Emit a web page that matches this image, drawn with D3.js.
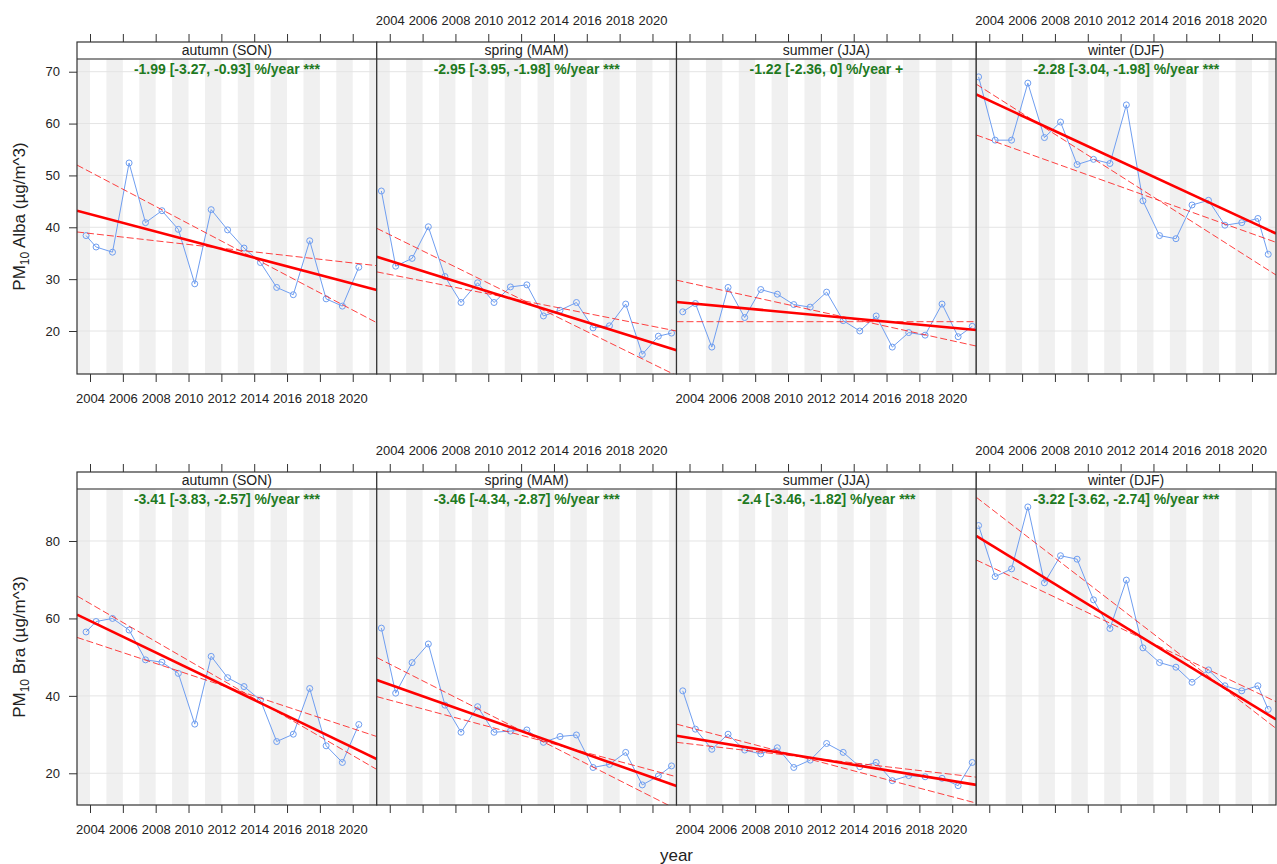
<!DOCTYPE html>
<html>
<head>
<meta charset="utf-8">
<script src="https://cdn.jsdelivr.net/npm/d3@7"></script>
<style>
  html, body { margin: 0; padding: 0; background: #ffffff; }
  svg { display: block; font-family: "Liberation Sans", Arial, sans-serif; }
</style>
</head>
<body>
<svg id="chart" width="1277" height="864"></svg>
<script>
// ---- data -------------------------------------------------------------
const seasons = ["autumn (SON)", "spring (MAM)", "summer (JJA)", "winter (DJF)"];

// decimal-year date of each seasonal mean
const datesAutumn = [2003.76, 2004.37, 2005.37, 2006.38, 2007.38, 2008.38, 2009.38, 2010.38, 2011.38, 2012.38, 2013.38, 2014.38, 2015.37, 2016.38, 2017.38, 2018.38, 2019.37, 2020.37];
const datesSpring = [2003.49, 2004.36, 2005.36, 2006.35, 2007.36, 2008.34, 2009.35, 2010.35, 2011.35, 2012.35, 2013.36, 2014.37, 2015.37, 2016.38, 2017.38, 2018.37, 2019.38, 2020.36, 2021.16];
const datesSummer = [2003.59, 2004.36, 2005.36, 2006.35, 2007.36, 2008.34, 2009.35, 2010.35, 2011.35, 2012.35, 2013.36, 2014.37, 2015.37, 2016.35, 2017.35, 2018.35, 2019.38, 2020.36, 2021.22];
const datesWinter = [2003.35, 2004.36, 2005.36, 2006.35, 2007.36, 2008.34, 2009.35, 2010.35, 2011.35, 2012.35, 2013.36, 2014.37, 2015.37, 2016.35, 2017.35, 2018.35, 2019.38, 2020.36, 2020.99];

// PM10 seasonal means, Alba (µg/m^3)
const albaAutumn = [38.4, 36.2, 35.2, 52.4, 40.9, 43.2, 39.6, 29.1, 43.4, 39.5, 36.0, 33.2, 28.4, 27.0, 37.4, 26.2, 24.8, 32.3];
const albaSpring = [47.0, 32.5, 34.0, 40.1, 30.5, 25.5, 29.3, 25.5, 28.5, 28.9, 22.9, 24.0, 25.5, 20.6, 21.0, 25.2, 15.5, 19.0, 19.6];
const albaSummer = [23.7, 25.3, 16.9, 28.4, 22.6, 28.0, 27.1, 25.1, 24.6, 27.5, 22.0, 20.0, 22.9, 16.9, 19.7, 19.2, 25.2, 18.9, 20.9];
const albaWinter = [69.0, 56.8, 56.8, 67.8, 57.3, 60.3, 52.1, 53.1, 52.3, 63.6, 45.1, 38.4, 37.8, 44.3, 45.2, 40.4, 40.9, 41.7, 34.8];

// PM10 seasonal means, Bra (µg/m^3)
const braAutumn = [56.5, 59.2, 60.0, 57.0, 49.3, 48.7, 45.8, 32.7, 50.2, 44.7, 42.4, 38.9, 28.2, 30.1, 41.9, 27.1, 22.8, 32.6];
const braSpring = [57.5, 40.7, 48.6, 53.4, 37.6, 30.6, 37.2, 30.6, 30.9, 31.2, 28.0, 29.5, 29.9, 21.5, 22.3, 25.4, 17.0, 19.3, 21.9];
const braSummer = [41.3, 31.4, 26.2, 30.1, 26.0, 25.0, 26.6, 21.5, 23.4, 27.7, 25.4, 21.7, 22.8, 18.1, 19.4, 19.1, 18.7, 16.8, 22.8];
const braWinter = [84.0, 70.8, 72.8, 88.8, 69.2, 76.2, 75.3, 64.8, 57.4, 69.9, 52.4, 48.6, 47.4, 43.5, 46.7, 42.6, 41.3, 42.6, 36.5];

// Theil-Sen trend and its confidence bounds: [value at start, value at end of the axis]
const albaTrend = [[43.2, 27.9], [34.3, 16.3], [25.6, 20.2], [65.6, 38.8]];
const albaBoundA = [[52.0, 21.6], [39.8, 11.4], [29.8, 17.1], [67.6, 30.8]];
const albaBoundB = [[39.1, 32.6], [31.4, 20.0], [21.8, 21.8], [57.8, 37.1]];
const braTrend = [[61.0, 23.7], [44.1, 16.7], [29.7, 17.0], [81.3, 33.9]];
const braBoundA = [[65.8, 21.0], [49.9, 10.7], [32.7, 12.3], [91.3, 31.6]];
const braBoundB = [[55.1, 29.5], [39.8, 19.1], [28.0, 19.0], [75.1, 38.5]];

const albaStats = ["-1.99 [-3.27, -0.93] %/year ***", "-2.95 [-3.95, -1.98] %/year ***", "-1.22 [-2.36, 0] %/year +", "-2.28 [-3.04, -1.98] %/year ***"];
const braStats = ["-3.41 [-3.83, -2.57] %/year ***", "-3.46 [-4.34, -2.87] %/year ***", "-2.4 [-3.46, -1.82] %/year ***", "-3.22 [-3.62, -2.74] %/year ***"];

const xDomain = [2003.208, 2021.463];
const xTicks = [2004, 2006, 2008, 2010, 2012, 2014, 2016, 2018, 2020];
const shadedYears = [2003, 2005, 2007, 2009, 2011, 2013, 2015, 2017, 2019, 2021];
const albaYTicks = [20, 30, 40, 50, 60, 70];
const braYTicks = [20, 40, 60, 80];

// ---- layout -----------------------------------------------------------
const svg = d3.select("#chart");
const panelLeft = 77, panelW = 299.75, stripH = 17;
const tickCol = "#333333", textCol = "#222222";

const rows = [
  { site: "Alba", stripTop: 42, bottom: 374, yDomain: [11.71, 72.45], yTicks: albaYTicks,
    dates: [datesAutumn, datesSpring, datesSummer, datesWinter],
    values: [albaAutumn, albaSpring, albaSummer, albaWinter],
    trend: albaTrend, boundA: albaBoundA, boundB: albaBoundB, stats: albaStats },
  { site: "Bra", stripTop: 472, bottom: 805, yDomain: [11.81, 93.43], yTicks: braYTicks,
    dates: [datesAutumn, datesSpring, datesSummer, datesWinter],
    values: [braAutumn, braSpring, braSummer, braWinter],
    trend: braTrend, boundA: braBoundA, boundB: braBoundB, stats: braStats }
];

const defs = svg.append("defs");

rows.forEach((row, ri) => {
  const plotTop = row.stripTop + stripH;
  const y = d3.scaleLinear().domain(row.yDomain).range([row.bottom, plotTop]);

  seasons.forEach((season, pi) => {
    const x0 = panelLeft + pi * panelW;
    const x = d3.scaleLinear().domain(xDomain).range([x0, x0 + panelW]);
    const clipId = `clip-${ri}-${pi}`;
    defs.append("clipPath").attr("id", clipId)
      .append("rect").attr("x", x0).attr("y", plotTop).attr("width", panelW).attr("height", row.bottom - plotTop);

    const g = svg.append("g");
    const plot = g.append("g").attr("clip-path", `url(#${clipId})`);

    // alternating year shading
    plot.selectAll("rect.band").data(shadedYears).join("rect")
      .attr("class", "band")
      .attr("x", d => x(d)).attr("width", d => x(d + 1) - x(d))
      .attr("y", plotTop).attr("height", row.bottom - plotTop)
      .attr("fill", "#f0f0f0");

    // horizontal reference lines
    plot.selectAll("line.grid").data(row.yTicks).join("line")
      .attr("class", "grid")
      .attr("x1", x0).attr("x2", x0 + panelW)
      .attr("y1", d => y(d)).attr("y2", d => y(d))
      .attr("stroke", "#e4e4e4").attr("stroke-width", 1);

    // observations
    const pts = row.dates[pi].map((d, i) => [d, row.values[pi][i]]);
    plot.append("path").datum(pts)
      .attr("d", d3.line().x(d => x(d[0])).y(d => y(d[1])))
      .attr("fill", "none").attr("stroke", "#6f9ef0").attr("stroke-width", 1);
    plot.selectAll("circle.obs").data(pts).join("circle")
      .attr("class", "obs")
      .attr("cx", d => x(d[0])).attr("cy", d => y(d[1])).attr("r", 3)
      .attr("fill", "none").attr("stroke", "#6f9ef0").attr("stroke-width", 1);

    // trend and confidence bounds
    const seg = v => [[xDomain[0], v[0]], [xDomain[1], v[1]]];
    const lineGen = d3.line().x(d => x(d[0])).y(d => y(d[1]));
    [row.boundA[pi], row.boundB[pi]].forEach(b => {
      plot.append("path").datum(seg(b))
        .attr("d", lineGen).attr("fill", "none")
        .attr("stroke", "#ff2020").attr("stroke-opacity", 0.85)
        .attr("stroke-width", 1).attr("stroke-dasharray", "7,3");
    });
    plot.append("path").datum(seg(row.trend[pi]))
      .attr("d", lineGen).attr("fill", "none")
      .attr("stroke", "#ff0000").attr("stroke-width", 2.6);

    // trend estimate text
    g.append("text")
      .attr("x", x0 + panelW / 2).attr("y", plotTop + 14.5)
      .attr("text-anchor", "middle")
      .attr("font-size", 14).attr("font-weight", "bold")
      .attr("fill", "#1f7a1f")
      .text(row.stats[pi]);

    // strip
    g.append("rect").attr("x", x0).attr("y", row.stripTop).attr("width", panelW).attr("height", stripH)
      .attr("fill", "#ffffff").attr("stroke", "none");
    g.append("text")
      .attr("x", x0 + panelW / 2).attr("y", row.stripTop + 13)
      .attr("text-anchor", "middle").attr("font-size", 14).attr("fill", textCol)
      .text(season);
    g.append("line").attr("x1", x0).attr("x2", x0 + panelW)
      .attr("y1", plotTop).attr("y2", plotTop)
      .attr("stroke", "#6a6a6a").attr("stroke-width", 1.6);

    // panel frame
    g.append("rect").attr("x", x0).attr("y", row.stripTop).attr("width", panelW).attr("height", row.bottom - row.stripTop)
      .attr("fill", "none").attr("stroke", tickCol).attr("stroke-width", 1.2);

    // x axes: ticks on both sides, labels alternate between bottom and top
    const labelBottom = pi % 2 === 0;
    const axTop = d3.axisTop(x).tickValues(xTicks).tickSize(8).tickPadding(9)
      .tickFormat(labelBottom ? () => "" : d3.format("d"));
    const axBot = d3.axisBottom(x).tickValues(xTicks).tickSize(8).tickPadding(11.5)
      .tickFormat(labelBottom ? d3.format("d") : () => "");
    [[axTop, row.stripTop], [axBot, row.bottom]].forEach(([ax, yy]) => {
      const a = g.append("g").attr("transform", `translate(0,${yy})`).call(ax);
      a.select(".domain").remove();
      a.selectAll("line").attr("stroke", tickCol);
      a.selectAll("text").attr("font-size", 13).attr("fill", textCol)
        .attr("font-family", "\"Liberation Sans\", Arial, sans-serif");
    });

    // y axis on the leftmost panel
    if (pi === 0) {
      const ay = g.append("g").attr("transform", `translate(${x0},0)`)
        .call(d3.axisLeft(y).tickValues(row.yTicks).tickSize(8).tickPadding(9).tickFormat(d3.format("d")));
      ay.select(".domain").remove();
      ay.selectAll("line").attr("stroke", tickCol);
      ay.selectAll("text").attr("font-size", 13).attr("fill", textCol)
        .attr("font-family", "\"Liberation Sans\", Arial, sans-serif");
    }
  });

  // y-axis title with subscript
  const yt = svg.append("text")
    .attr("transform", `translate(25,${(plotTop + row.bottom) / 2}) rotate(-90)`)
    .attr("text-anchor", "middle").attr("font-size", 17).attr("fill", textCol);
  yt.append("tspan").text("PM");
  yt.append("tspan").attr("font-size", 12).attr("dy", 4).text("10");
  yt.append("tspan").attr("dy", -4).text(` ${row.site} (µg/m^3)`);
});

// shared x-axis title
svg.append("text")
  .attr("x", panelLeft + 2 * panelW).attr("y", 861)
  .attr("text-anchor", "middle").attr("font-size", 17).attr("fill", textCol)
  .text("year");
</script>
</body>
</html>
